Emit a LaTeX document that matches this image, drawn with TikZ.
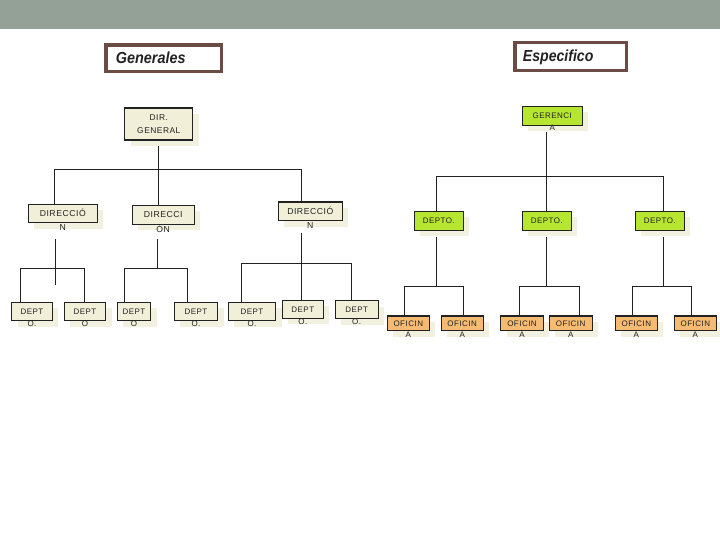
\documentclass[tikz,border=0pt]{standalone}
\usepackage{fontspec}
\usepackage{graphicx}
\setmainfont{Liberation Sans}
\newfontfamily\bxfont[LetterSpace=6]{Liberation Sans}
\usetikzlibrary{shadows}
\definecolor{banner}{HTML}{93A196}
\definecolor{hborder}{HTML}{6B4C45}
\definecolor{beige}{HTML}{F2EFD9}
\definecolor{shc}{HTML}{F2F0DE}
\definecolor{lime}{HTML}{B7E630}
\definecolor{orng}{HTML}{F6BB72}
\definecolor{ink}{HTML}{222222}
\pgfdeclarelayer{bg}
\pgfsetlayers{bg,main}
\begin{document}
\begin{tikzpicture}[x=0.75pt,y=-0.75pt,
 box/.style={draw=ink, line width=0.8pt, inner sep=0pt, text=ink,
   font=\bxfont\fontsize{6}{7}\selectfont, text height=4.3pt, text depth=0pt,
   drop shadow={shadow xshift=4.5pt,shadow yshift=-4.5pt,fill=shc,opacity=1}},
 beigebox/.style={box, fill=beige},
 limebox/.style={box, fill=lime},
 orbox/.style={box, fill=orng},
 dfont/.style={font=\bxfont\fontsize{6.5}{7}\selectfont, text height=4.65pt},
 low/.style={inner sep=0pt, text=ink, font=\bxfont\fontsize{6}{7}\selectfont, anchor=center},
 conn/.style={draw=ink, line width=0.75pt},
 hbox/.style={draw=hborder, line width=2.4pt, fill=white, inner sep=0pt},
 htext/.style={font=\fontsize{12}{14}\selectfont\bfseries\itshape, text=ink, inner sep=0pt, anchor=base west}
]
\useasboundingbox (0,0) rectangle (720,540);

% headings
\node[hbox, minimum width=86.8pt, minimum height=20pt] (genbox) at (163.8,58.3) {};
\node[htext] (gent) at (115.7,63.3) {\scalebox{0.9}[1]{Generales}};
\node[hbox, minimum width=83.8pt, minimum height=20.9pt] (espbox) at (570.8,56.5) {};
\node[htext] (espt) at (522.7,61.5) {\scalebox{0.88}[1]{Especifico}};

% level 1
\node[beigebox, minimum width=50.8pt, minimum height=24pt, align=center,
  text height=, text depth=, font=\bxfont\fontsize{6.3}{9.4}\selectfont] (dg) at (158.8,124) {DIR.\\GENERAL};
\node[limebox, minimum width=45pt, minimum height=14.5pt] (ger) at (552.3,115.7) {GERENCI};
\node[low] (gerb) at ([yshift=-1.5pt]ger.south) {A};

% level 2 left
\node[beigebox, dfont, minimum width=51.8pt, minimum height=13.8pt] (d1) at (62.8,213.5) {DIRECCIÓ};
\node[low, font=\bxfont\fontsize{6.5}{7}\selectfont] (d1b) at ([yshift=-3pt]d1.south) {N};
\node[beigebox, dfont, minimum width=46.3pt, minimum height=14pt] (d2) at (163.2,214.7) {DIRECCI};
\node[low, font=\bxfont\fontsize{6.5}{7}\selectfont] (d2b) at ([yshift=-3pt]d2.south) {ÓN};
\node[beigebox, dfont, minimum width=48pt, minimum height=14pt] (d3) at (310.3,211.3) {DIRECCIÓ};
\node[low, font=\bxfont\fontsize{6.5}{7}\selectfont] (d3b) at ([yshift=-3pt]d3.south) {N};

% level 2 right
\node[limebox, minimum width=36.8pt, minimum height=14pt] (p1) at (438.8,220.7) {DEPTO.};
\node[limebox, minimum width=36.8pt, minimum height=14pt] (p2) at (546.8,220.7) {DEPTO.};
\node[limebox, minimum width=36.8pt, minimum height=14pt] (p3) at (659.8,220.7) {DEPTO.};

% level 3 left
\node[beigebox, minimum width=30.5pt, minimum height=13.8pt] (e1) at (32,311.5) {DEPT};
\node[low] (e1b) at ([yshift=-2pt]e1.south) {O.};
\node[beigebox, minimum width=31pt, minimum height=13.8pt] (e2) at (85,311.5) {DEPT};
\node[low] (e2b) at ([yshift=-2pt]e2.south) {O};
\node[beigebox, minimum width=25pt, minimum height=13.8pt] (e3) at (134,311.5) {DEPT};
\node[low] (e3b) at ([yshift=-2pt]e3.south) {O};
\node[beigebox, minimum width=32.5pt, minimum height=13.8pt] (e4) at (196,311.5) {DEPT};
\node[low] (e4b) at ([yshift=-2pt]e4.south) {O.};
\node[beigebox, minimum width=35.5pt, minimum height=13.8pt] (e5) at (252,311.5) {DEPT};
\node[low] (e5b) at ([yshift=-2pt]e5.south) {O.};
\node[beigebox, minimum width=30.8pt, minimum height=13.5pt] (e6) at (302.8,309.3) {DEPT};
\node[low] (e6b) at ([yshift=-2pt]e6.south) {O.};
\node[beigebox, minimum width=32pt, minimum height=13.5pt] (e7) at (356.7,309.8) {DEPT};
\node[low] (e7b) at ([yshift=-2pt]e7.south) {O.};

% level 3 right
\node[orbox, minimum width=31.5pt, minimum height=11pt] (o1) at (408.3,323.3) {OFICIN};
\node[low] (o1b) at ([yshift=-3pt]o1.south) {A};
\node[orbox, minimum width=31.7pt, minimum height=11pt] (o2) at (462.2,323.3) {OFICIN};
\node[low] (o2b) at ([yshift=-3pt]o2.south) {A};
\node[orbox, minimum width=32pt, minimum height=11pt] (o3) at (522,323.3) {OFICIN};
\node[low] (o3b) at ([yshift=-3pt]o3.south) {A};
\node[orbox, minimum width=32pt, minimum height=11pt] (o4) at (570.7,323.3) {OFICIN};
\node[low] (o4b) at ([yshift=-3pt]o4.south) {A};
\node[orbox, minimum width=31.5pt, minimum height=11pt] (o5) at (636.3,323.3) {OFICIN};
\node[low] (o5b) at ([yshift=-3pt]o5.south) {A};
\node[orbox, minimum width=32pt, minimum height=11pt] (o6) at (695.4,323.3) {OFICIN};
\node[low] (o6b) at ([yshift=-3pt]o6.south) {A};

\begin{pgfonlayer}{bg}
\fill[banner] (0,0) rectangle (720,29.3);
% bus levels
\coordinate (bA) at (0,169.3);
\coordinate (bB) at (0,268.3);
\coordinate (bC) at (0,263.3);
\coordinate (bD) at (0,176.3);
\coordinate (bE) at (0,286.7);
% left tree, level 1 -> 2
\coordinate (t1) at ([xshift=-6.6pt]d1.north);
\coordinate (t3) at ([xshift=-6.45pt]d3.north);
\draw[conn] (dg.south) -- (dg.south |- d2.north);
\draw[conn] (t1) |- (t3 |- bA) -- (t3);
% d1 subtree
\coordinate (s1) at ([xshift=-5.85pt,yshift=-11.5pt]d1.south);
\coordinate (u1) at ([xshift=-8.5pt]e1.north);
\coordinate (u2) at ([xshift=-0.5pt]e2.north);
\draw[conn] (s1) -- ([yshift=-34.7pt]s1);
\draw[conn] (u1) |- (u2 |- bB) -- (u2);
% d2 subtree
\coordinate (s2) at ([xshift=-4.1pt,yshift=-10.5pt]d2.south);
\coordinate (u3) at ([xshift=-7.3pt]e3.north);
\coordinate (u4) at ([xshift=-6.5pt]e4.north);
\draw[conn] (s2) -- (s2 |- bB);
\draw[conn] (u3) |- (u4 |- bB) -- (u4);
% d3 subtree
\coordinate (s3) at ([xshift=-6.45pt,yshift=-9.2pt]d3.south);
\coordinate (u5) at ([xshift=-8pt]e5.north);
\coordinate (u7) at ([xshift=-4pt]e7.north);
\draw[conn] (s3) -- (s3 |- e6.north);
\draw[conn] (u5) |- (u7 |- bC) -- (u7);
% right tree, level 1 -> 2
\coordinate (g0) at ([xshift=-4.7pt,yshift=-4.5pt]ger.south);
\coordinate (v1) at ([xshift=-1.9pt]p1.north);
\coordinate (v3) at ([xshift=2.6pt]p3.north);
\draw[conn] (g0) -- (g0 |- p2.north);
\draw[conn] (v1) |- (v3 |- bD) -- (v3);
% p subtrees
\coordinate (q1) at ([xshift=-1.6pt,yshift=-5pt]p1.south);
\coordinate (q2) at ([yshift=-5pt]p2.south);
\coordinate (q3) at ([xshift=3.1pt,yshift=-5pt]p3.south);
\coordinate (w1) at ([xshift=-2.5pt]o1.north);
\coordinate (w2) at ([xshift=0.8pt]o2.north);
\coordinate (w3) at ([xshift=-2pt]o3.north);
\coordinate (w4) at ([xshift=6.5pt]o4.north);
\coordinate (w5) at ([xshift=-3pt]o5.north);
\coordinate (w6) at ([xshift=-2.8pt]o6.north);
\draw[conn] (q1) -- (q1 |- bE);
\draw[conn] (w1) |- (w2 |- bE) -- (w2);
\draw[conn] (q2) -- (q2 |- bE);
\draw[conn] (w3) |- (w4 |- bE) -- (w4);
\draw[conn] (q3) -- (q3 |- bE);
\draw[conn] (w5) |- (w6 |- bE) -- (w6);
\end{pgfonlayer}
\end{tikzpicture}
\end{document}
